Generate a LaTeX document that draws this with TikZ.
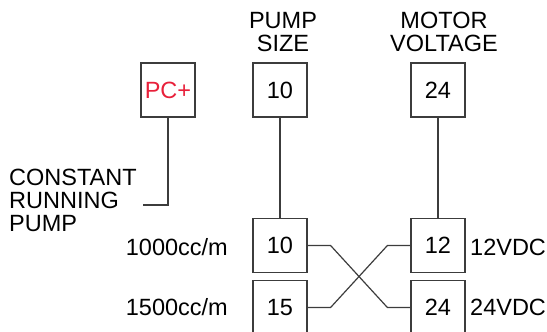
\documentclass[tikz,border=0pt]{standalone}
\usepackage{fontspec}
\setmainfont{Liberation Sans}
\usepackage{xcolor}
\usetikzlibrary{calc}

\definecolor{wiregray}{HTML}{3C3C3C}
\definecolor{pcred}{HTML}{E8203A}

\begin{document}
\begin{tikzpicture}[
  x=1pt, y=-1pt,
  font=\fontsize{23.5}{23}\selectfont,
  box/.style={draw=wiregray, line width=1.2pt, minimum width=54pt,
              minimum height=54pt, inner sep=0pt},
  lbl/.style={inner sep=0pt, align=center},
  wire/.style={draw=wiregray, line width=1.2pt},
]
\useasboundingbox (0,0) rectangle (547,332);
\clip (0,0) rectangle (547,332);

% ============ HEADERS ============
\node[lbl] (hpump)  at (283,32) {PUMP\\SIZE};
\node[lbl] (hmotor) at (444,32) {MOTOR\\VOLTAGE};

% ============ TOP ROW ============
\node[box, text=pcred] (pc)  at (168,90) {PC+};
\node[box]             (ps)  at (280,90) {10};
\node[box]             (mv)  at (438,90) {24};

% ============ BOTTOM ROWS ============
\node[box] (p10) at (280,245.5) {10};
\node[box] (p15) at (280,307.5) {15};
\node[box] (v12) at (438,245.5) {12};
\node[box] (v24) at (438,307.5) {24};

% side labels
\node[lbl, anchor=east] (l1000) at (228,247) {1000cc/m};
\node[lbl, anchor=east] (l1500) at (228,307) {1500cc/m};
\node[lbl, anchor=west] (l12)   at (470,247) {12VDC};
\node[lbl, anchor=west] (l24)   at (470,307) {24VDC};

% constant running pump
\node[lbl, align=left, anchor=west] (crp) at (9,200)
  {CONSTANT\\RUNNING\\PUMP};
\coordinate (crpend) at (143,205);

% ============ WIRES ============
\draw[wire] (pc.south) |- (crpend);
\draw[wire] (ps.south) -- (p10.north);
\draw[wire] (mv.south) -- (v12.north);

% crossed pair
\draw[wire] (p10.east) -- ++(23,0) -- ($(v24.west)+(-23,0)$) -- (v24.west);
\draw[wire] (p15.east) -- ++(23,0) -- ($(v12.west)+(-23,0)$) -- (v12.west);

\end{tikzpicture}
\end{document}
